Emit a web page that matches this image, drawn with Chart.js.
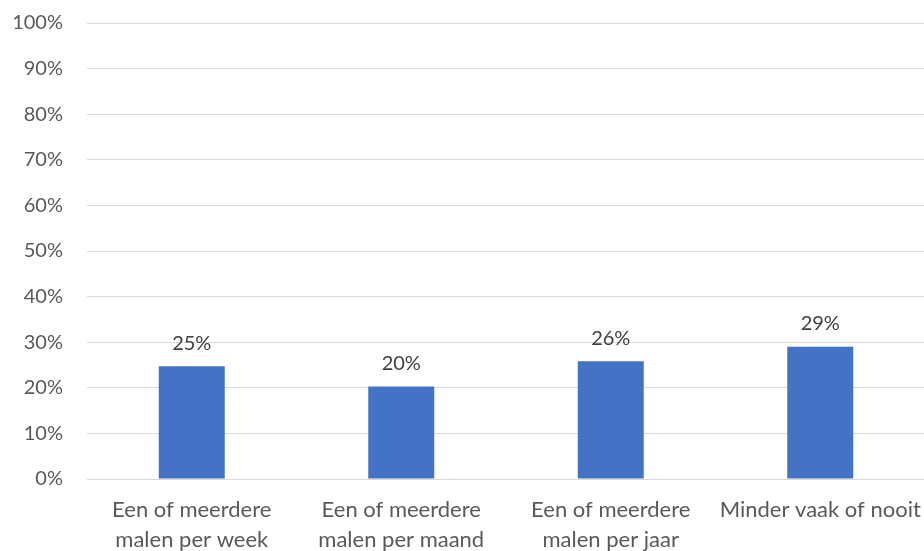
<!DOCTYPE html>
<html>
<head>
<meta charset="utf-8">
<script src="https://cdn.jsdelivr.net/npm/chart.js@4/dist/chart.umd.min.js"></script>
<style>
  html, body { margin: 0; padding: 0; background: #fff; overflow: hidden; }
  #wrap { width: 930px; height: 551px; }
</style>
</head>
<body>
<div id="wrap"><canvas id="myChart"></canvas></div>
<script>
// categories and values
const categories = [
  ["Een of meerdere", "malen per week"],
  ["Een of meerdere", "malen per maand"],
  ["Een of meerdere", "malen per jaar"],
  "Minder vaak of nooit"
];
const percentages = [24.7, 20.3, 25.8, 29.0];
const valueLabels = ["25%", "20%", "26%", "29%"];

// draws the value labels above each bar
const barLabels = {
  id: "barLabels",
  afterDatasetsDraw(chart) {
    const ctx = chart.ctx;
    const meta = chart.getDatasetMeta(0);
    ctx.save();
    ctx.font = "20px Lato, 'Open Sans', sans-serif";
    ctx.fillStyle = "#404040";
    ctx.textAlign = "center";
    ctx.textBaseline = "bottom";
    meta.data.forEach((bar, i) => {
      ctx.fillText(valueLabels[i], bar.x, bar.y - 13);
    });
    ctx.restore();
  }
};

const ctx = document.getElementById("myChart").getContext("2d");
new Chart(ctx, {
  type: "bar",
  data: {
    labels: categories,
    datasets: [{
      data: percentages,
      backgroundColor: "#4472c4",
      barPercentage: 0.63,
      categoryPercentage: 0.5
    }]
  },
  options: {
    responsive: true,
    maintainAspectRatio: false,
    animation: false,
    layout: { padding: { top: 23, right: 5, left: 0, bottom: 0 } },
    plugins: {
      legend: { display: false },
      tooltip: { enabled: false }
    },
    scales: {
      x: {
        grid: { display: false, drawTicks: false },
        border: { display: true, color: "#d9d9d9" },
        ticks: {
          color: "#595959",
          font: { family: "Lato, 'Open Sans', sans-serif", size: 22, lineHeight: 1.36 },
          padding: 16,
          maxRotation: 0,
          autoSkip: false
        },
        afterFit(scale) {
          scale.height = 72;
          scale.paddingLeft = 0;
          scale.paddingRight = 0;
        }
      },
      y: {
        min: 0,
        max: 100,
        grid: { color: "#d9d9d9", drawTicks: false },
        border: { display: false },
        ticks: {
          stepSize: 10,
          color: "#595959",
          font: { family: "Lato, 'Open Sans', sans-serif", size: 20 },
          padding: 24,
          callback: (v) => v + "%"
        },
        afterFit(scale) {
          scale.width = 87;
          scale.paddingTop = 0;
          scale.paddingBottom = 0;
        }
      }
    }
  },
  plugins: [barLabels]
});
</script>
</body>
</html>
